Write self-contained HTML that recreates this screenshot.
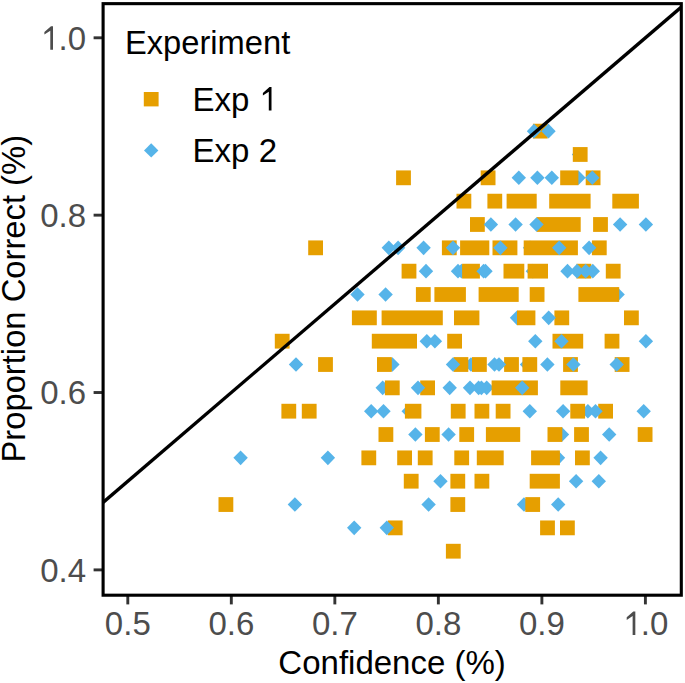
<!DOCTYPE html>
<html><head><meta charset="utf-8"><title>Confidence vs Proportion Correct</title>
<style>
html,body{margin:0;padding:0;background:#fff;}
body{width:685px;height:683px;overflow:hidden;font-family:"Liberation Sans", sans-serif;}
svg{display:block;}
</style></head>
<body>
<svg width="685" height="683" viewBox="0 0 685 683" font-family='"Liberation Sans", sans-serif'><rect x="0" y="0" width="685" height="683" fill="#fff"/>
<defs><clipPath id="pc"><rect x="103.10" y="3.65" width="578.20" height="591.55"/></clipPath></defs>
<g clip-path="url(#pc)">
<g fill="#56B4E9"><path d="M579.00 147.18L586.20 154.48L579.00 161.78L571.80 154.48Z"/><path d="M578.50 170.52L585.70 177.82L578.50 185.12L571.30 177.82Z"/><path d="M530.00 240.53L537.20 247.83L530.00 255.13L522.80 247.83Z"/><path d="M458.00 263.86L465.20 271.16L458.00 278.46L450.80 271.16Z"/><path d="M461.50 263.86L468.70 271.16L461.50 278.46L454.30 271.16Z"/><path d="M532.90 263.86L540.10 271.16L532.90 278.46L525.70 271.16Z"/><path d="M617.60 287.20L624.80 294.50L617.60 301.80L610.40 294.50Z"/><path d="M517.00 310.54L524.20 317.84L517.00 325.14L509.80 317.84Z"/><path d="M392.40 357.21L399.60 364.51L392.40 371.81L385.20 364.51Z"/><path d="M471.00 357.21L478.20 364.51L471.00 371.81L463.80 364.51Z"/><path d="M527.00 357.21L534.20 364.51L527.00 371.81L519.80 364.51Z"/><path d="M382.70 380.55L389.90 387.85L382.70 395.15L375.50 387.85Z"/><path d="M486.70 380.55L493.90 387.85L486.70 395.15L479.50 387.85Z"/><path d="M408.70 403.89L415.90 411.19L408.70 418.49L401.50 411.19Z"/><path d="M587.90 403.89L595.10 411.19L587.90 418.49L580.70 411.19Z"/><path d="M562.00 427.22L569.20 434.52L562.00 441.82L554.80 434.52Z"/><path d="M558.00 450.56L565.20 457.86L558.00 465.16L550.80 457.86Z"/><path d="M524.00 497.23L531.20 504.53L524.00 511.83L516.80 504.53Z"/></g>
<g fill="#E69F00"><rect x="532.90" y="123.74" width="14.80" height="14.8"/><rect x="572.80" y="147.08" width="14.80" height="14.8"/><rect x="396.10" y="170.42" width="14.80" height="14.8"/><rect x="480.70" y="170.42" width="14.80" height="14.8"/><rect x="560.20" y="170.42" width="18.20" height="14.8"/><rect x="585.70" y="170.42" width="14.80" height="14.8"/><rect x="456.50" y="193.75" width="14.80" height="14.8"/><rect x="487.40" y="193.75" width="14.80" height="14.8"/><rect x="506.60" y="193.75" width="30.10" height="14.8"/><rect x="549.20" y="193.75" width="41.40" height="14.8"/><rect x="612.30" y="193.75" width="26.60" height="14.8"/><rect x="470.00" y="217.09" width="14.80" height="14.8"/><rect x="536.60" y="217.09" width="44.10" height="14.8"/><rect x="593.10" y="217.09" width="14.80" height="14.8"/><rect x="308.20" y="240.43" width="14.80" height="14.8"/><rect x="441.90" y="240.43" width="14.80" height="14.8"/><rect x="460.10" y="240.43" width="29.20" height="14.8"/><rect x="492.50" y="240.43" width="24.90" height="14.8"/><rect x="523.70" y="240.43" width="54.20" height="14.8"/><rect x="591.90" y="240.43" width="14.80" height="14.8"/><rect x="401.60" y="263.76" width="14.80" height="14.8"/><rect x="462.10" y="263.76" width="17.80" height="14.8"/><rect x="503.50" y="263.76" width="20.80" height="14.8"/><rect x="527.60" y="263.76" width="20.40" height="14.8"/><rect x="576.50" y="263.76" width="14.80" height="14.8"/><rect x="605.80" y="263.76" width="14.80" height="14.8"/><rect x="415.90" y="287.10" width="14.80" height="14.8"/><rect x="434.40" y="287.10" width="31.50" height="14.8"/><rect x="478.60" y="287.10" width="40.10" height="14.8"/><rect x="529.70" y="287.10" width="14.80" height="14.8"/><rect x="578.40" y="287.10" width="40.80" height="14.8"/><rect x="351.90" y="310.44" width="24.90" height="14.8"/><rect x="381.60" y="310.44" width="61.20" height="14.8"/><rect x="454.00" y="310.44" width="25.40" height="14.8"/><rect x="517.00" y="310.44" width="18.40" height="14.8"/><rect x="554.40" y="310.44" width="14.80" height="14.8"/><rect x="624.00" y="310.44" width="14.80" height="14.8"/><rect x="274.80" y="333.78" width="14.80" height="14.8"/><rect x="371.80" y="333.78" width="45.20" height="14.8"/><rect x="447.20" y="333.78" width="14.80" height="14.8"/><rect x="552.50" y="333.78" width="30.70" height="14.8"/><rect x="604.60" y="333.78" width="14.80" height="14.8"/><rect x="318.10" y="357.11" width="14.80" height="14.8"/><rect x="377.00" y="357.11" width="14.80" height="14.8"/><rect x="453.50" y="357.11" width="14.80" height="14.8"/><rect x="472.00" y="357.11" width="14.80" height="14.8"/><rect x="504.10" y="357.11" width="14.80" height="14.8"/><rect x="522.40" y="357.11" width="14.80" height="14.8"/><rect x="563.10" y="357.11" width="14.80" height="14.8"/><rect x="614.70" y="357.11" width="14.80" height="14.8"/><rect x="384.90" y="380.45" width="14.80" height="14.8"/><rect x="420.20" y="380.45" width="14.80" height="14.8"/><rect x="491.60" y="380.45" width="46.30" height="14.8"/><rect x="560.30" y="380.45" width="27.30" height="14.8"/><rect x="281.40" y="403.79" width="14.80" height="14.8"/><rect x="301.80" y="403.79" width="14.80" height="14.8"/><rect x="404.90" y="403.79" width="16.50" height="14.8"/><rect x="450.80" y="403.79" width="14.80" height="14.8"/><rect x="474.50" y="403.79" width="14.80" height="14.8"/><rect x="495.70" y="403.79" width="14.80" height="14.8"/><rect x="570.30" y="403.79" width="14.80" height="14.8"/><rect x="598.20" y="403.79" width="14.80" height="14.8"/><rect x="378.50" y="427.12" width="14.80" height="14.8"/><rect x="424.90" y="427.12" width="14.80" height="14.8"/><rect x="459.30" y="427.12" width="14.80" height="14.8"/><rect x="485.90" y="427.12" width="34.30" height="14.8"/><rect x="547.50" y="427.12" width="14.80" height="14.8"/><rect x="574.10" y="427.12" width="14.80" height="14.8"/><rect x="637.70" y="427.12" width="14.80" height="14.8"/><rect x="361.40" y="450.46" width="14.80" height="14.8"/><rect x="397.20" y="450.46" width="14.80" height="14.8"/><rect x="417.80" y="450.46" width="14.80" height="14.8"/><rect x="454.30" y="450.46" width="14.80" height="14.8"/><rect x="476.80" y="450.46" width="26.90" height="14.8"/><rect x="531.10" y="450.46" width="28.80" height="14.8"/><rect x="575.00" y="450.46" width="14.80" height="14.8"/><rect x="403.80" y="473.80" width="14.80" height="14.8"/><rect x="450.40" y="473.80" width="14.80" height="14.8"/><rect x="474.50" y="473.80" width="14.80" height="14.8"/><rect x="529.70" y="473.80" width="30.20" height="14.8"/><rect x="218.50" y="497.13" width="14.80" height="14.8"/><rect x="450.40" y="497.13" width="14.80" height="14.8"/><rect x="525.30" y="497.13" width="14.80" height="14.8"/><rect x="387.80" y="520.47" width="14.80" height="14.8"/><rect x="540.10" y="520.47" width="14.80" height="14.8"/><rect x="560.00" y="520.47" width="14.80" height="14.8"/><rect x="445.90" y="543.81" width="14.80" height="14.8"/></g>
<g fill="#56B4E9"><path d="M534.00 123.84L541.20 131.14L534.00 138.44L526.80 131.14Z"/><path d="M548.50 123.84L555.70 131.14L548.50 138.44L541.30 131.14Z"/><path d="M518.80 170.52L526.00 177.82L518.80 185.12L511.60 177.82Z"/><path d="M537.40 170.52L544.60 177.82L537.40 185.12L530.20 177.82Z"/><path d="M551.80 170.52L559.00 177.82L551.80 185.12L544.60 177.82Z"/><path d="M592.30 170.52L599.50 177.82L592.30 185.12L585.10 177.82Z"/><path d="M490.90 217.19L498.10 224.49L490.90 231.79L483.70 224.49Z"/><path d="M515.60 217.19L522.80 224.49L515.60 231.79L508.40 224.49Z"/><path d="M536.50 217.19L543.70 224.49L536.50 231.79L529.30 224.49Z"/><path d="M620.10 217.19L627.30 224.49L620.10 231.79L612.90 224.49Z"/><path d="M645.90 217.19L653.10 224.49L645.90 231.79L638.70 224.49Z"/><path d="M388.80 240.53L396.00 247.83L388.80 255.13L381.60 247.83Z"/><path d="M398.10 240.53L405.30 247.83L398.10 255.13L390.90 247.83Z"/><path d="M423.60 240.53L430.80 247.83L423.60 255.13L416.40 247.83Z"/><path d="M453.00 240.53L460.20 247.83L453.00 255.13L445.80 247.83Z"/><path d="M500.40 240.53L507.60 247.83L500.40 255.13L493.20 247.83Z"/><path d="M559.20 240.53L566.40 247.83L559.20 255.13L552.00 247.83Z"/><path d="M589.10 240.53L596.30 247.83L589.10 255.13L581.90 247.83Z"/><path d="M426.00 263.86L433.20 271.16L426.00 278.46L418.80 271.16Z"/><path d="M483.60 263.86L490.80 271.16L483.60 278.46L476.40 271.16Z"/><path d="M485.50 263.86L492.70 271.16L485.50 278.46L478.30 271.16Z"/><path d="M567.50 263.86L574.70 271.16L567.50 278.46L560.30 271.16Z"/><path d="M577.00 263.86L584.20 271.16L577.00 278.46L569.80 271.16Z"/><path d="M585.70 263.86L592.90 271.16L585.70 278.46L578.50 271.16Z"/><path d="M592.80 263.86L600.00 271.16L592.80 278.46L585.60 271.16Z"/><path d="M357.50 287.20L364.70 294.50L357.50 301.80L350.30 294.50Z"/><path d="M385.60 287.20L392.80 294.50L385.60 301.80L378.40 294.50Z"/><path d="M548.70 310.54L555.90 317.84L548.70 325.14L541.50 317.84Z"/><path d="M426.80 333.88L434.00 341.18L426.80 348.48L419.60 341.18Z"/><path d="M434.90 333.88L442.10 341.18L434.90 348.48L427.70 341.18Z"/><path d="M535.30 333.88L542.50 341.18L535.30 348.48L528.10 341.18Z"/><path d="M561.50 333.88L568.70 341.18L561.50 348.48L554.30 341.18Z"/><path d="M645.90 333.88L653.10 341.18L645.90 348.48L638.70 341.18Z"/><path d="M296.00 357.21L303.20 364.51L296.00 371.81L288.80 364.51Z"/><path d="M453.00 357.21L460.20 364.51L453.00 371.81L445.80 364.51Z"/><path d="M494.50 357.21L501.70 364.51L494.50 371.81L487.30 364.51Z"/><path d="M499.00 357.21L506.20 364.51L499.00 371.81L491.80 364.51Z"/><path d="M547.40 357.21L554.60 364.51L547.40 371.81L540.20 364.51Z"/><path d="M573.40 357.21L580.60 364.51L573.40 371.81L566.20 364.51Z"/><path d="M616.70 357.21L623.90 364.51L616.70 371.81L609.50 364.51Z"/><path d="M418.00 380.55L425.20 387.85L418.00 395.15L410.80 387.85Z"/><path d="M449.70 380.55L456.90 387.85L449.70 395.15L442.50 387.85Z"/><path d="M470.00 380.55L477.20 387.85L470.00 395.15L462.80 387.85Z"/><path d="M478.60 380.55L485.80 387.85L478.60 395.15L471.40 387.85Z"/><path d="M481.40 380.55L488.60 387.85L481.40 395.15L474.20 387.85Z"/><path d="M522.20 380.55L529.40 387.85L522.20 395.15L515.00 387.85Z"/><path d="M371.20 403.89L378.40 411.19L371.20 418.49L364.00 411.19Z"/><path d="M383.50 403.89L390.70 411.19L383.50 418.49L376.30 411.19Z"/><path d="M529.80 403.89L537.00 411.19L529.80 418.49L522.60 411.19Z"/><path d="M563.10 403.89L570.30 411.19L563.10 418.49L555.90 411.19Z"/><path d="M595.50 403.89L602.70 411.19L595.50 418.49L588.30 411.19Z"/><path d="M643.70 403.89L650.90 411.19L643.70 418.49L636.50 411.19Z"/><path d="M415.40 427.22L422.60 434.52L415.40 441.82L408.20 434.52Z"/><path d="M448.60 427.22L455.80 434.52L448.60 441.82L441.40 434.52Z"/><path d="M609.20 427.22L616.40 434.52L609.20 441.82L602.00 434.52Z"/><path d="M240.60 450.56L247.80 457.86L240.60 465.16L233.40 457.86Z"/><path d="M327.90 450.56L335.10 457.86L327.90 465.16L320.70 457.86Z"/><path d="M600.60 450.56L607.80 457.86L600.60 465.16L593.40 457.86Z"/><path d="M440.50 473.90L447.70 481.20L440.50 488.50L433.30 481.20Z"/><path d="M576.10 473.90L583.30 481.20L576.10 488.50L568.90 481.20Z"/><path d="M598.80 473.90L606.00 481.20L598.80 488.50L591.60 481.20Z"/><path d="M294.90 497.23L302.10 504.53L294.90 511.83L287.70 504.53Z"/><path d="M428.60 497.23L435.80 504.53L428.60 511.83L421.40 504.53Z"/><path d="M558.20 497.23L565.40 504.53L558.20 511.83L551.00 504.53Z"/><path d="M354.20 520.57L361.40 527.87L354.20 535.17L347.00 527.87Z"/><path d="M386.80 520.57L394.00 527.87L386.80 535.17L379.60 527.87Z"/></g>
<line x1="103.10" y1="502.36" x2="681.30" y2="7.05" stroke="#000" stroke-width="3.35"/>
</g>
<text x="124.9" y="53.9" font-size="32.7" fill="#000">Experiment</text>
<rect x="143.80" y="92.00" width="14.8" height="14.4" fill="#E69F00"/>
<path fill="#56B4E9" d="M151.2 143.3L158.4 150.4L151.2 157.5L144 150.4Z"/>
<text x="192.60" y="110.60" font-size="33" fill="#000">Exp </text><polygon points="271.50,87.10 271.50,110.60 268.80,110.60 268.80,91.72 262.89,95.49 262.89,92.91 269.49,87.10" fill="#000"/>
<text x="192.6" y="161.8" font-size="33" fill="#000">Exp 2</text>
<line x1="93.6" y1="37.80" x2="103.10" y2="37.80" stroke="#333" stroke-width="2.9"/>
<polygon points="53.00,26.20 53.00,49.70 50.29,49.70 50.29,30.82 44.39,34.59 44.39,32.01 50.99,26.20" fill="#4D4D4D"/><text x="58.48" y="49.70" font-size="33" fill="#4D4D4D" xml:space="preserve">.0</text>
<line x1="93.6" y1="215.16" x2="103.10" y2="215.16" stroke="#333" stroke-width="2.9"/>
<text x="40.13" y="227.06" font-size="33" fill="#4D4D4D" xml:space="preserve">0.8</text>
<line x1="93.6" y1="392.52" x2="103.10" y2="392.52" stroke="#333" stroke-width="2.9"/>
<text x="40.13" y="404.42" font-size="33" fill="#4D4D4D" xml:space="preserve">0.6</text>
<line x1="93.6" y1="569.88" x2="103.10" y2="569.88" stroke="#333" stroke-width="2.9"/>
<text x="40.13" y="581.78" font-size="33" fill="#4D4D4D" xml:space="preserve">0.4</text>
<line x1="127.80" y1="595.20" x2="127.80" y2="604.4" stroke="#333" stroke-width="2.9"/>
<text x="104.86" y="635.00" font-size="33" fill="#4D4D4D" xml:space="preserve">0.5</text>
<line x1="231.32" y1="595.20" x2="231.32" y2="604.4" stroke="#333" stroke-width="2.9"/>
<text x="208.38" y="635.00" font-size="33" fill="#4D4D4D" xml:space="preserve">0.6</text>
<line x1="334.84" y1="595.20" x2="334.84" y2="604.4" stroke="#333" stroke-width="2.9"/>
<text x="311.90" y="635.00" font-size="33" fill="#4D4D4D" xml:space="preserve">0.7</text>
<line x1="438.36" y1="595.20" x2="438.36" y2="604.4" stroke="#333" stroke-width="2.9"/>
<text x="415.43" y="635.00" font-size="33" fill="#4D4D4D" xml:space="preserve">0.8</text>
<line x1="541.88" y1="595.20" x2="541.88" y2="604.4" stroke="#333" stroke-width="2.9"/>
<text x="518.94" y="635.00" font-size="33" fill="#4D4D4D" xml:space="preserve">0.9</text>
<line x1="645.40" y1="595.20" x2="645.40" y2="604.4" stroke="#333" stroke-width="2.9"/>
<polygon points="635.33,611.50 635.33,635.00 632.63,635.00 632.63,616.12 626.72,619.89 626.72,617.31 633.32,611.50" fill="#4D4D4D"/><text x="640.81" y="635.00" font-size="33" fill="#4D4D4D" xml:space="preserve">.0</text>
<rect x="103.1" y="3.65" width="578.20" height="591.55" fill="none" stroke="#000" stroke-width="3.1"/>
<text x="392.1" y="673.8" font-size="33" fill="#000" text-anchor="middle">Confidence (%)</text>
<text transform="translate(25.1 298.75) rotate(-90)" x="0" y="0" font-size="32.75" fill="#000" text-anchor="middle">Proportion Correct (%)</text></svg>
</body></html>
